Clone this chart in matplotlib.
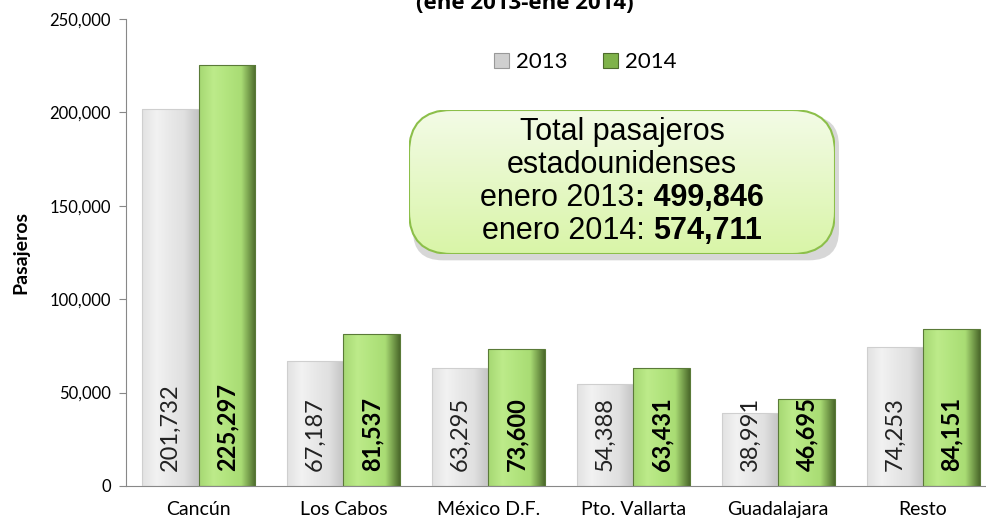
import matplotlib.pyplot as plt
import numpy as np
from matplotlib.patches import FancyBboxPatch
from matplotlib.ticker import FuncFormatter
from matplotlib.colors import LinearSegmentedColormap

# pasajeros estadounidenses, enero
categorias = ["Cancún", "Los Cabos", "México D.F.", "Pto. Vallarta", "Guadalajara", "Resto"]
v2013 = [201732, 67187, 63295, 54388, 38991, 74253]
v2014 = [225297, 81537, 73600, 63431, 46695, 84151]
total2013 = "499,846"
total2014 = "574,711"

plt.rcParams['font.family'] = ['Lato', 'DejaVu Sans']

fig = plt.figure(figsize=(9.87, 5.27), dpi=100)
ax = fig.add_axes([0.1277, 0.0778, 0.881, 0.886])

x = np.arange(len(categorias))
w = 0.39

def gradient_bars(bars, colors):
    cmap = LinearSegmentedColormap.from_list("g", colors)
    grad = np.linspace(0, 1, 64).reshape(1, -1)
    for b in bars:
        bx, by = b.get_x(), b.get_y()
        bw, bh = b.get_width(), b.get_height()
        im = ax.imshow(grad, cmap=cmap, aspect='auto', extent=(bx, bx + bw, by, by + bh),
                       zorder=2, interpolation='bicubic')
        im.set_clip_path(b)
        b.set_facecolor('none')

b13 = ax.bar(x - w / 2, v2013, w, edgecolor='#cfcfcf', linewidth=0.8, zorder=3)
b14 = ax.bar(x + w / 2, v2014, w, edgecolor='#5a7a38', linewidth=0.8, zorder=3)
gradient_bars(b13, ['#e2e2e2', '#f2f2f2', '#e8e8e8', '#e0e0e0', '#c4c4c4'])
gradient_bars(b14, ['#a6d873', '#bdeb8a', '#b2e47e', '#a9dc74', '#4d6b2c'])

for xi, v in zip(x, v2013):
    ax.text(xi - w / 2, 8000, f"{v:,}", rotation=90, ha='center', va='bottom',
            fontsize=17, color='#222222', zorder=5)
for xi, v in zip(x, v2014):
    ax.text(xi + w / 2, 8000, f"{v:,}", rotation=90, ha='center', va='bottom',
            fontsize=17, fontweight='bold', color='black', zorder=5)

ax.set_xlim(-0.5, len(categorias) - 0.5)
ax.set_ylim(0, 250000)
ax.set_yticks(np.arange(0, 250001, 50000))
ax.yaxis.set_major_formatter(FuncFormatter(lambda v, p: f"{int(v):,}"))
ax.set_xticks(x)
ax.set_xticklabels(categorias, fontsize=14)
ax.tick_params(axis='x', length=0, pad=11)
ax.tick_params(axis='y', labelsize=12, length=5, color='#888888', direction='out', pad=6)
for s in ['top', 'right']:
    ax.spines[s].set_visible(False)
ax.spines['left'].set_color('#888888')
ax.spines['bottom'].set_color('#888888')
ax.set_ylabel("Pasajeros", fontsize=14, fontweight='bold', labelpad=14)

# legend
leg = ax.legend([b13[0], b14[0]], ["2013", "2014"], loc='upper center', bbox_to_anchor=(0.528, 0.972),
                ncol=2, frameon=False, fontsize=16, handlelength=0.7, handleheight=0.7,
                columnspacing=1.6, handletextpad=0.3)
leg.legend_handles[0].set_facecolor('#cfcfcf')
leg.legend_handles[0].set_edgecolor('#999999')
leg.legend_handles[1].set_facecolor('#7fb24a')
leg.legend_handles[1].set_edgecolor('#4d6b2c')

# text box
bx0, by0, bw, bh = 409 / 987, (527 - 254) / 527, 426 / 987, 144 / 527
shadow = FancyBboxPatch((bx0 + 0.004, by0 - 0.012), bw, bh, boxstyle="round,pad=0,rounding_size=0.03",
                        transform=fig.transFigure, facecolor='#b0b0b0', edgecolor='none', alpha=0.5,
                        zorder=6, mutation_aspect=987 / 527)
fig.patches.append(shadow)
grad_ax = fig.add_axes([bx0, by0, bw, bh], zorder=8)
grad_ax.imshow(np.linspace(0, 1, 64).reshape(-1, 1),
               cmap=LinearSegmentedColormap.from_list("b", ['#f3fbe6', '#d9f5a8']),
               aspect='auto', extent=(0, 1, 0, 1))
clip = FancyBboxPatch((0, 0), 1, 1, boxstyle="round,pad=0,rounding_size=0.1", transform=grad_ax.transAxes,
                      facecolor='none', edgecolor='#8cbf4a', linewidth=1.5,
                      mutation_aspect=bw * 987 / (bh * 527))
grad_ax.add_patch(clip)
grad_ax.images[0].set_clip_path(clip)
grad_ax.axis('off')

tf = ['Liberation Sans', 'DejaVu Sans']
fs = 22
grad_ax.text(0.5, 0.85, "Total pasajeros", ha='center', va='center', fontsize=fs, family=tf)
grad_ax.text(0.5, 0.62, "estadounidenses", ha='center', va='center', fontsize=fs, family=tf)

# mixed normal / bold lines: place pieces side by side, then centre
fig.canvas.draw()
r = fig.canvas.get_renderer()
axw = grad_ax.get_window_extent(r).width
for yy, normal, bold in [(0.39, "enero 2013", ": " + total2013),
                         (0.16, "enero 2014: ", total2014)]:
    t1 = grad_ax.text(0, yy, normal, ha='left', va='center', fontsize=fs, family=tf)
    t2 = grad_ax.text(0, yy, bold, ha='left', va='center', fontsize=fs, family=tf, fontweight='bold')
    w1 = t1.get_window_extent(r).width / axw
    w2 = t2.get_window_extent(r).width / axw
    if normal.endswith(" "):
        w1 += 0
    x0 = 0.5 - (w1 + w2) / 2
    t1.set_x(x0)
    t2.set_x(x0 + w1)

fig.text(0.532, (527 - 9) / 527, "(ene 2013-ene 2014)", ha='center', va='baseline',
         fontsize=16, fontweight='bold', family=['Open Sans', 'DejaVu Sans'])

fig.savefig("out.png", dpi=100)
